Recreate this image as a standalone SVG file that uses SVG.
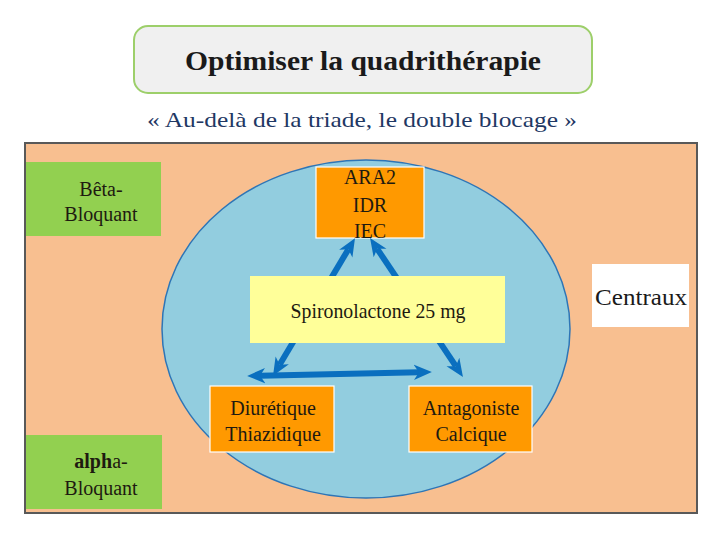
<svg xmlns="http://www.w3.org/2000/svg" width="720" height="540" viewBox="0 0 720 540">
<defs>
<style>
text{font-family:"Liberation Serif","Times New Roman",serif;text-anchor:middle}
.lbl{font-size:20px;fill:#1e1a10}
.orange{fill:#ff9900;stroke:#ffffff;stroke-width:1.2}
.green{fill:#92d050}
.conn{stroke:#0a6fbf;stroke-width:6;fill:none;marker-start:url(#ah);marker-end:url(#ah)}
</style>
<marker id="ah" viewBox="0 0 14 14" refX="4" refY="7" markerWidth="18" markerHeight="18" markerUnits="userSpaceOnUse" orient="auto-start-reverse">
<path d="M0,1 L14,7 L0,13 L4,7 z" fill="#0a6fbf"/>
</marker>
</defs>
<rect width="720" height="540" fill="#ffffff"/>
<g id="title">
<rect x="134" y="26" width="458" height="67" rx="14" fill="#f0f0f0" stroke="#9dcf6a" stroke-width="2"/>
<text x="363" y="70" style="font-size:27px;font-weight:bold;fill:#1a1a1a" textLength="356" lengthAdjust="spacingAndGlyphs">Optimiser la quadrithérapie</text>
</g>
<g id="subtitle">
<text x="362" y="127" style="font-size:22px;fill:#1f3864" textLength="430" lengthAdjust="spacingAndGlyphs">« Au-delà de la triade, le double blocage  »</text>
</g>
<g id="panel">
<rect x="25" y="143" width="672" height="370" fill="#f8bf90" stroke="#595959" stroke-width="2"/>
<ellipse cx="366" cy="329" rx="204" ry="169" fill="#92cddf" stroke="#2e75b6" stroke-width="1.5"/>
</g>
<g id="beta">
<rect class="green" x="26" y="162" width="135" height="74"/>
<text class="lbl" x="101" y="196">Bêta-</text>
<text class="lbl" x="101" y="221">Bloquant</text>
</g>
<g id="alpha">
<rect class="green" x="26" y="435" width="136" height="74"/>
<text class="lbl" x="101" y="468"><tspan font-weight="bold">alph</tspan>a-</text>
<text class="lbl" x="101" y="495">Bloquant</text>
</g>
<g id="centraux">
<rect x="592" y="264" width="97" height="63" fill="#ffffff"/>
<text x="641" y="305" style="font-size:23px;fill:#1a1a1a" textLength="92" lengthAdjust="spacingAndGlyphs">Centraux</text>
</g>
<g id="ara2">
<rect class="orange" x="316" y="167" width="108" height="71"/>
<text class="lbl" x="370" y="184">ARA2</text>
<text class="lbl" x="370" y="212">IDR</text>
<text class="lbl" x="370" y="238">IEC</text>
</g>
<g id="connectors">
<line class="conn" x1="279.6" y1="364.8" x2="348.4" y2="249.2"/>
<line class="conn" x1="377.2" y1="248.8" x2="455.8" y2="366.2"/>
<line class="conn" x1="260" y1="375.7" x2="419" y2="372.3"/>
</g>
<g id="spironolactone">
<rect x="250" y="276" width="255" height="67" fill="#ffff99"/>
<text class="lbl" x="378" y="318" style="font-size:22px" textLength="175" lengthAdjust="spacingAndGlyphs">Spironolactone 25 mg</text>
</g>
<g id="diuretique">
<rect class="orange" x="210" y="386" width="124" height="66"/>
<text class="lbl" x="273" y="415">Diurétique</text>
<text class="lbl" x="273" y="441">Thiazidique</text>
</g>
<g id="antagoniste">
<rect class="orange" x="409" y="386" width="123" height="66"/>
<text class="lbl" x="471" y="415">Antagoniste</text>
<text class="lbl" x="471" y="441">Calcique</text>
</g>
</svg>
